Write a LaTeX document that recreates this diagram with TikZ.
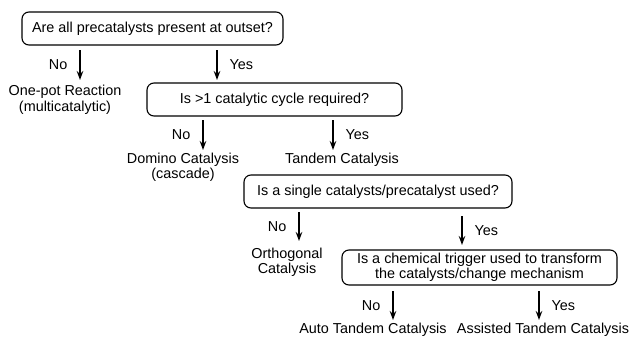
\documentclass[tikz,border=0pt]{standalone}
\usepackage{fontspec}
\setmainfont{Liberation Sans}
\usetikzlibrary{arrows.meta,positioning}

\begin{document}
\begin{tikzpicture}[
    x=1pt, y=-1pt,
    q/.style={draw, line width=1.1pt, rounded corners=7pt, minimum height=33pt, font=\fontsize{14.4}{15.5}\selectfont, align=center, inner sep=2pt},
    res/.style={font=\fontsize{14.4}{15.5}\selectfont, align=center, inner sep=0pt},
    lab/.style={font=\fontsize{14.4}{15.5}\selectfont, inner sep=0pt},
    >={Stealth[length=9pt,width=6.5pt]}
]
\useasboundingbox (0,0) rectangle (632,338);

% questions
\node[q, minimum width=261pt] (q1) at (152.5, 28.5) {Are all precatalysts present at outset?};
\node[q, minimum width=255pt] (q2) at (274.5, 99.5) {Is >1 catalytic cycle required?};
\node[q, minimum width=268pt] (q3) at (378, 191.5) {Is a single catalysts/precatalyst used?};
\node[q, minimum width=275pt, minimum height=35pt] (q4) at (479.5, 267.5) {Is a chemical trigger used to transform\\the catalysts/change mechanism};

% outcomes
\node[res] (onepot) at (65, 100) {One-pot Reaction\\(multicatalytic)};
\node[res] (domino) at (183, 167.5) {Domino Catalysis\\(cascade)};
\node[res] (tandem) at (342, 160) {Tandem Catalysis};
\node[res] (ortho) at (287, 262.5) {Orthogonal\\Catalysis};
\node[res] (auto) at (373, 330) {Auto Tandem Catalysis};
\node[res] (assist) at (543, 330) {Assisted Tandem Catalysis};

% arrows
\foreach \i/\x/\ya/\yb/\txt/\side in {
    1/80/50/80/No/left,
    2/217/50/80/Yes/right,
    3/203/120/150/No/left,
    4/333/120/150/Yes/right,
    5/299/212/241/No/left,
    6/462/216/245/Yes/right,
    7/393/291/320/No/left,
    8/539/291/320/Yes/right} {
    \coordinate (s\i) at (\x, \ya);
    \coordinate (e\i) at (\x, \yb);
    \draw[->, line width=1.3pt] (s\i) -- (e\i)
        node[lab, midway, \side=12pt] (l\i) {\txt};
}

\end{tikzpicture}
\end{document}
